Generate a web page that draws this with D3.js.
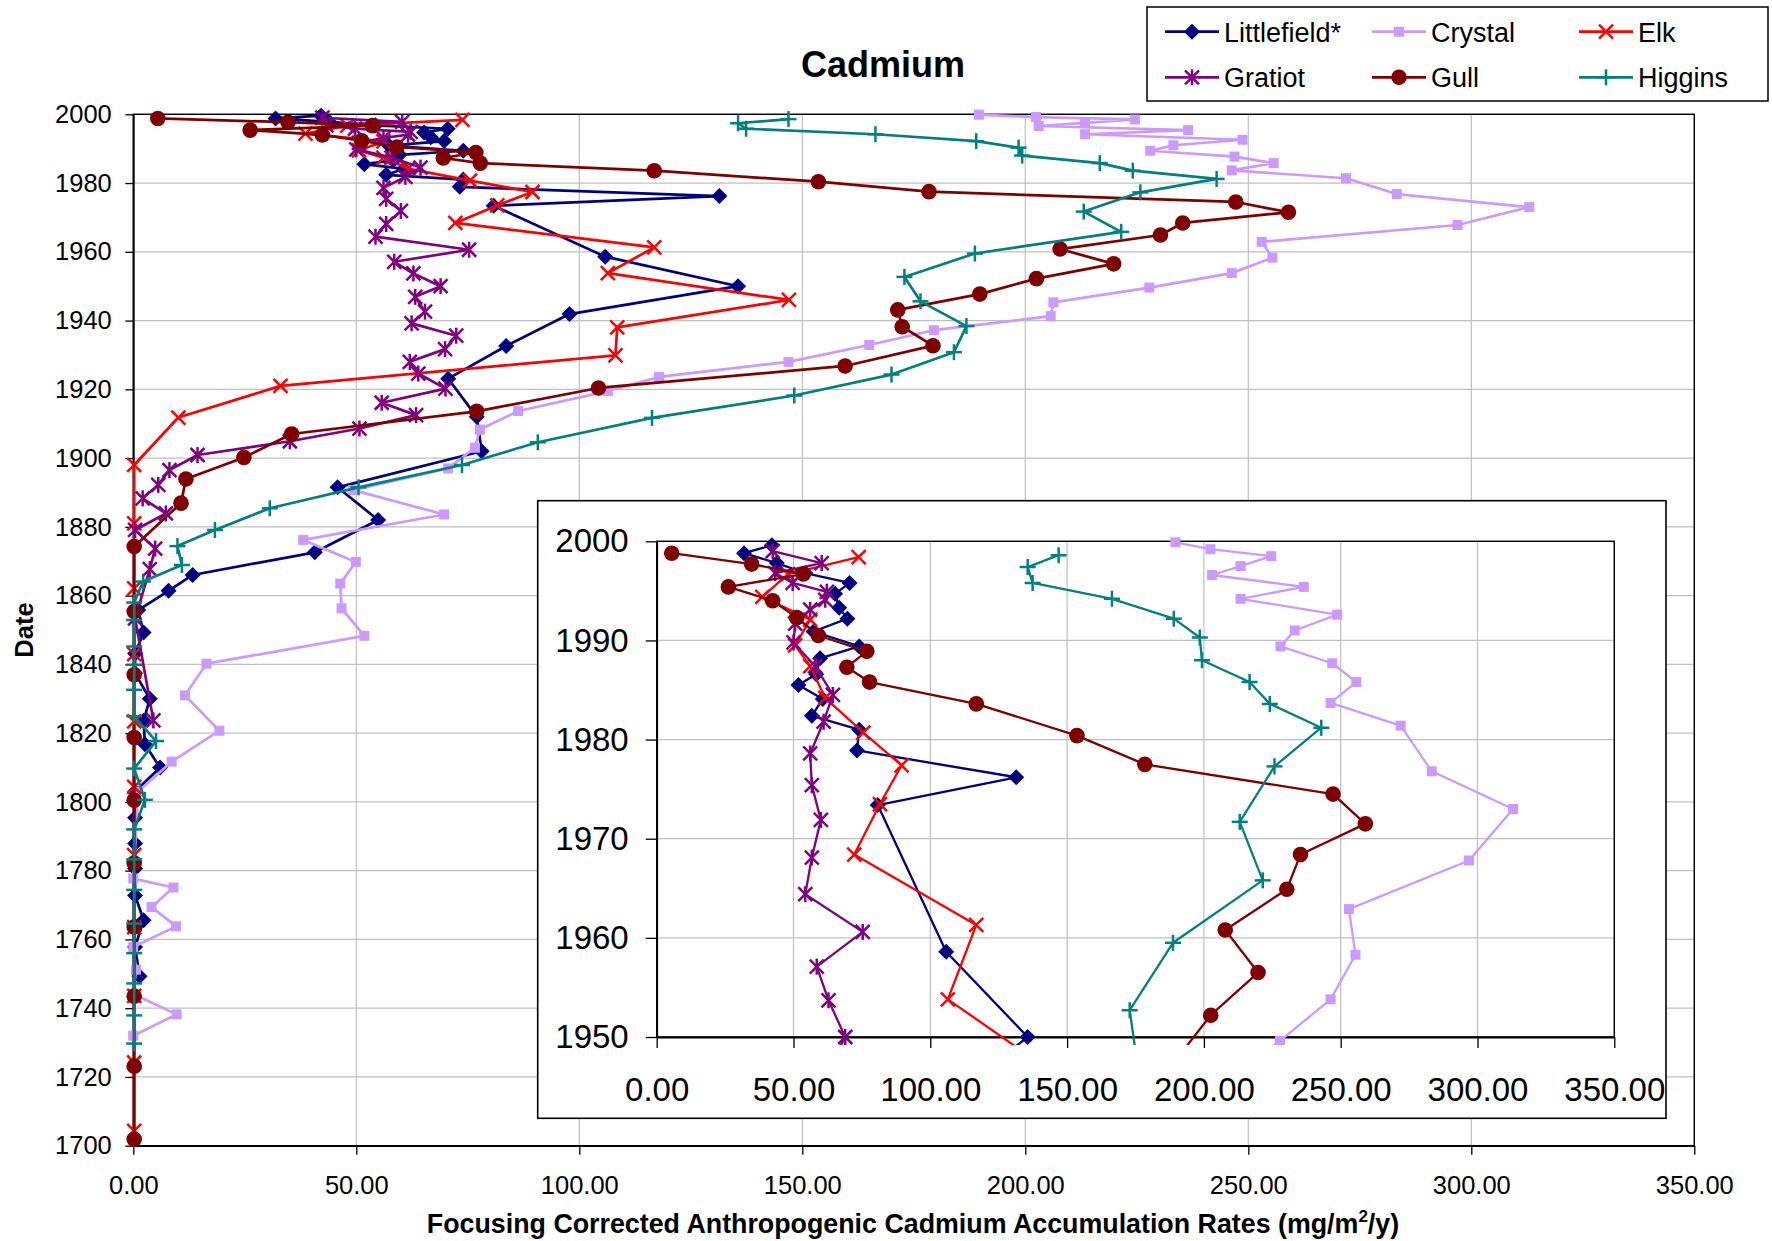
<!DOCTYPE html>
<html>
<head>
<meta charset="utf-8">
<script src="https://cdnjs.cloudflare.com/ajax/libs/d3/7.8.5/d3.min.js"></script>
<style>
  body { margin: 0; background: #fff; }
  svg { font-family: "Liberation Sans", Arial, sans-serif; }
</style>
</head>
<body>
<div id="chart"></div>
<script>
// sediment core data, year (date) vs accumulation rate
var littlefieldYears = [1999.6, 1998.8, 1997.8, 1996.8, 1995.8, 1994.7, 1993.3, 1992.2, 1990.9, 1989.4, 1988.2, 1986.6, 1985.5, 1984.1, 1982.4, 1981.0, 1978.9, 1976.2, 1973.4, 1958.6, 1950.0, 1941.9, 1932.6, 1923.1, 1912.0, 1902.0, 1891.5, 1882.0, 1872.6, 1866.0, 1861.4, 1855.8, 1849.3, 1843.2, 1837.4, 1830.0, 1823.6, 1816.8, 1810.0, 1803.0, 1795.4, 1787.9, 1780.6, 1772.8, 1765.6, 1757.8, 1749.3];
var littlefieldRates = [42.1, 31.9, 43.9, 54.3, 70.5, 65.2, 66.7, 69.7, 57.3, 74.0, 59.7, 58.3, 51.8, 60.7, 56.7, 74.0, 73.2, 131.4, 80.8, 105.8, 135.6, 97.8, 83.6, 70.6, 77.0, 78.1, 45.8, 54.9, 40.7, 13.3, 7.9, 1.1, 2.3, 0.4, 0.4, 3.7, 2.3, 2.6, 6.0, 0.4, 0.4, 0.4, 0.4, 0.4, 2.3, 0.4, 1.4];

var crystalYears = [1999.9, 1999.2, 1998.5, 1997.5, 1996.6, 1995.4, 1994.2, 1992.6, 1991.0, 1989.4, 1987.7, 1985.8, 1983.7, 1981.4, 1976.8, 1973.0, 1967.8, 1962.9, 1958.3, 1953.8, 1949.6, 1945.3, 1941.3, 1937.2, 1932.9, 1928.0, 1923.6, 1919.5, 1913.7, 1908.3, 1903.0, 1897.0, 1890.7, 1883.6, 1876.2, 1869.8, 1863.5, 1856.3, 1848.3, 1840.2, 1831.0, 1820.7, 1811.7, 1803.0, 1777.7, 1775.1, 1769.4, 1763.8, 1757.8, 1751.2, 1744.1, 1738.2, 1732.0];
var crystalRates = [189.6, 202.4, 224.6, 213.4, 203.0, 236.5, 213.4, 248.7, 233.2, 228.0, 246.9, 255.7, 246.3, 271.9, 283.3, 313.0, 296.9, 253.0, 255.4, 246.3, 227.8, 206.3, 205.7, 179.5, 165.0, 146.9, 117.9, 106.4, 86.3, 77.7, 76.6, 70.6, 49.3, 69.7, 38.1, 49.9, 46.4, 46.7, 51.8, 16.4, 11.6, 19.3, 8.6, 1.1, 0.0, 9.0, 4.1, 9.6, 0.0, 0.6, 0.0, 9.7, 0.0];

var elkYears = [1998.4, 1996.7, 1994.4, 1992.1, 1989.5, 1987.4, 1984.2, 1980.7, 1977.4, 1973.5, 1968.4, 1961.3, 1953.8, 1946.0, 1938.0, 1929.9, 1921.0, 1911.8, 1898.0, 1881.0, 1862.1, 1843.0, 1823.4, 1804.4, 1784.5, 1763.6, 1743.6, 1724.2, 1704.3];
var elkRates = [73.8, 48.0, 38.6, 56.1, 50.6, 56.1, 61.6, 75.5, 89.5, 81.6, 72.2, 116.8, 106.4, 147.0, 108.5, 108.1, 33.0, 10.1, 0.2, 0.2, 0.2, 0.2, 0.2, 0.2, 0.2, 0.2, 0.2, 0.2, 0.2];

var gratiotYears = [1999.0, 1997.8, 1996.8, 1995.8, 1994.9, 1994.1, 1993.1, 1991.7, 1989.8, 1987.4, 1984.5, 1981.8, 1978.6, 1975.4, 1971.9, 1968.1, 1964.4, 1960.6, 1957.1, 1953.7, 1950.0, 1946.9, 1942.6, 1939.2, 1935.6, 1931.7, 1928.0, 1924.6, 1920.2, 1916.1, 1912.5, 1908.6, 1904.9, 1900.9, 1896.5, 1892.2, 1888.3, 1883.9, 1879.1, 1873.7, 1867.7, 1853.4, 1823.7];
var gratiotRates = [42.4, 60.3, 43.3, 49.7, 62.2, 61.6, 56.1, 50.6, 50.0, 57.9, 64.4, 61.0, 56.1, 56.7, 60.0, 56.7, 54.3, 75.3, 58.5, 62.8, 68.9, 63.2, 65.4, 62.4, 72.4, 69.9, 62.0, 63.9, 70.0, 55.7, 63.4, 50.7, 35.1, 14.4, 8.1, 5.6, 2.1, 7.3, 0.4, 4.9, 3.7, 0.4, 4.5];

var gullYears = [1998.8, 1997.7, 1996.7, 1995.4, 1994.0, 1992.3, 1990.5, 1988.9, 1987.3, 1985.8, 1983.6, 1980.4, 1977.5, 1974.5, 1971.5, 1968.4, 1964.9, 1960.8, 1956.5, 1952.2, 1947.7, 1943.1, 1938.2, 1932.7, 1926.8, 1920.4, 1913.6, 1907.0, 1900.2, 1893.9, 1886.9, 1874.3, 1855.4, 1837.0, 1818.7, 1800.5, 1782.2, 1763.6, 1743.5, 1723.1, 1701.9];
var gullRates = [5.5, 34.7, 53.6, 26.2, 42.4, 51.2, 59.1, 76.8, 69.5, 77.8, 116.8, 153.6, 178.4, 247.2, 259.0, 235.3, 230.3, 207.8, 219.8, 202.5, 189.8, 171.4, 172.4, 179.3, 159.6, 104.3, 77.0, 35.5, 24.8, 11.8, 10.7, 0.2, 0.2, 0.2, 0.2, 0.2, 0.2, 0.2, 0.2, 0.2, 0.2];

var higginsYears = [1998.6, 1997.4, 1995.8, 1994.2, 1992.2, 1990.3, 1988.0, 1985.8, 1983.6, 1981.2, 1977.3, 1971.7, 1965.8, 1959.5, 1952.7, 1945.6, 1938.4, 1930.8, 1924.3, 1918.2, 1911.7, 1904.6, 1898.0, 1891.5, 1885.4, 1879.1, 1874.4, 1868.9, 1864.1, 1858.0, 1852.9, 1845.2, 1839.9, 1832.6, 1824.9, 1817.7, 1809.7, 1800.6, 1792.0, 1783.3, 1774.4, 1764.6, 1756.0, 1747.2, 1737.9, 1729.7];
var higginsRates = [146.9, 135.6, 137.4, 166.4, 189.0, 198.5, 199.3, 216.7, 224.1, 242.9, 225.8, 213.1, 221.5, 188.7, 172.9, 176.5, 186.8, 184.0, 170.0, 148.2, 116.3, 90.7, 73.7, 50.5, 30.6, 18.3, 9.9, 10.9, 2.2, 0.2, 0.2, 0.2, 0.2, 0.2, 0.2, 5.1, 0.2, 2.6, 0.2, 0.2, 0.2, 0.2, 0.2, 0.2, 0.2, 0.2];

var seriesNames = ["Littlefield*", "Crystal", "Elk", "Gratiot", "Gull", "Higgins"];
var rateTicks = [0, 50, 100, 150, 200, 250, 300, 350];
var yearTicks = [1700, 1720, 1740, 1760, 1780, 1800, 1820, 1840, 1860, 1880, 1900, 1920, 1940, 1960, 1980, 2000];
var insetYearTicks = [1950, 1960, 1970, 1980, 1990, 2000];

function pairs(years, rates) {
  return years.map(function(yr, i) { return { year: yr, rate: rates[i] }; });
}

var series = [
  { name: seriesNames[0], color: "#000080", marker: "diamond", data: pairs(littlefieldYears, littlefieldRates) },
  { name: seriesNames[1], color: "#CC99FF", marker: "square",  data: pairs(crystalYears, crystalRates) },
  { name: seriesNames[2], color: "#FF0000", marker: "x",       data: pairs(elkYears, elkRates) },
  { name: seriesNames[3], color: "#800080", marker: "star",    data: pairs(gratiotYears, gratiotRates) },
  { name: seriesNames[4], color: "#800000", marker: "circle",  data: pairs(gullYears, gullRates) },
  { name: seriesNames[5], color: "#008080", marker: "plus",    data: pairs(higginsYears, higginsRates) }
];

var W = 1772, H = 1241;
var svg = d3.select("#chart").append("svg")
  .attr("width", W).attr("height", H);

svg.append("rect").attr("width", W).attr("height", H).attr("fill", "#fff");

function drawMarker(g, type, cx, cy, color) {
  if (type == "diamond") {
    g.append("path").attr("d", "M" + cx + "," + (cy - 8) + "L" + (cx + 8) + "," + cy + "L" + cx + "," + (cy + 8) + "L" + (cx - 8) + "," + cy + "Z")
      .attr("fill", color);
  } else if (type == "square") {
    g.append("rect").attr("x", cx - 5).attr("y", cy - 5).attr("width", 10).attr("height", 10).attr("fill", color);
  } else if (type == "circle") {
    g.append("circle").attr("cx", cx).attr("cy", cy).attr("r", 7.8).attr("fill", color);
  } else {
    var segs = [];
    if (type == "x" || type == "star") {
      segs.push([-7, -7, 7, 7]);
      segs.push([-7, 7, 7, -7]);
    }
    if (type == "star") segs.push([0, -8, 0, 8]);
    if (type == "plus") {
      segs.push([-8, 0, 8, 0]);
      segs.push([0, -8, 0, 8]);
    }
    segs.forEach(function(s) {
      g.append("line").attr("x1", cx + s[0]).attr("y1", cy + s[1]).attr("x2", cx + s[2]).attr("y2", cy + s[3])
        .attr("stroke", color).attr("stroke-width", 2.5);
    });
  }
}

// ---------- main chart ----------
var main = { left: 133.3, right: 1694.3, top: 114.3, bottom: 1145.7 };
var xScale = d3.scaleLinear().domain([0, 350]).range([main.left, main.right]);
var yScale = d3.scaleLinear().domain([1700, 2000]).range([main.bottom, main.top]);

var grid = svg.append("g");
rateTicks.forEach(function(v) {
  grid.append("line").attr("x1", xScale(v)).attr("x2", xScale(v)).attr("y1", main.top).attr("y2", main.bottom)
    .attr("stroke", "#c0c0c0").attr("stroke-width", 1.2);
});
yearTicks.forEach(function(v) {
  grid.append("line").attr("x1", main.left).attr("x2", main.right).attr("y1", yScale(v)).attr("y2", yScale(v))
    .attr("stroke", "#c0c0c0").attr("stroke-width", 1.2);
});
svg.append("rect").attr("x", main.left).attr("y", main.top)
  .attr("width", main.right - main.left).attr("height", main.bottom - main.top)
  .attr("fill", "none").attr("stroke", "#000").attr("stroke-width", 1.4);

var xAxis = d3.axisBottom(xScale).tickValues(rateTicks).tickSizeInner(9).tickSizeOuter(0).tickPadding(21)
  .tickFormat(d3.format(".2f"));
var yAxis = d3.axisLeft(yScale).tickValues(yearTicks).tickSizeInner(8).tickSizeOuter(0).tickPadding(13.5)
  .tickFormat(d3.format("d"));

var gx = svg.append("g").attr("transform", "translate(0," + main.bottom + ")").call(xAxis);
var gy = svg.append("g").attr("transform", "translate(" + main.left + ",0)").call(yAxis);
[gx, gy].forEach(function(g) {
  g.select(".domain").attr("stroke", "#000").attr("stroke-width", 1.8);
  g.selectAll(".tick line").attr("stroke", "#000").attr("stroke-width", 1.3);
  g.selectAll(".tick text").attr("font-size", "25.5px").attr("fill", "#000")
    .attr("font-family", "Liberation Sans, Arial, sans-serif");
});

function drawSeries(g, s, xs, ys, yMin, lineWidth) {
  var line = d3.line().x(function(d) { return xs(d.rate); }).y(function(d) { return ys(d.year); });
  g.append("path").datum(s.data).attr("d", line)
    .attr("fill", "none").attr("stroke", s.color).attr("stroke-width", lineWidth)
    .attr("stroke-linejoin", "round");
  var mg = g.append("g");
  s.data.forEach(function(d) {
    if (d.year >= yMin) drawMarker(mg, s.marker, xs(d.rate), ys(d.year), s.color);
  });
}

var plotG = svg.append("g");
series.forEach(function(s) { drawSeries(plotG, s, xScale, yScale, 1690, 2.7); });

// ---------- titles ----------
svg.append("text").attr("x", 883).attr("y", 77).attr("text-anchor", "middle")
  .attr("font-size", "36px").attr("font-weight", "bold").text("Cadmium");

var xt = svg.append("text").attr("x", 913).attr("y", 1233).attr("text-anchor", "middle")
  .attr("font-size", "26.8px").attr("font-weight", "bold");
xt.append("tspan").text("Focusing Corrected Anthropogenic Cadmium Accumulation Rates (mg/m");
xt.append("tspan").attr("font-size", "17px").attr("dy", -11).text("2");
xt.append("tspan").attr("dy", 11).text("/y)");

svg.append("text").attr("transform", "translate(33,630) rotate(-90)").attr("text-anchor", "middle")
  .attr("font-size", "25.5px").attr("font-weight", "bold").text("Date");

// ---------- legend ----------
var leg = svg.append("g");
leg.append("rect").attr("x", 1147).attr("y", 7).attr("width", 621).attr("height", 94)
  .attr("fill", "#fff").attr("stroke", "#000").attr("stroke-width", 1.5);
var legCols = [1165, 1372, 1579];
var legRows = [31.7, 77.3];
series.forEach(function(s, i) {
  var lx = legCols[i % 3], ly = legRows[Math.floor(i / 3)];
  leg.append("line").attr("x1", lx).attr("x2", lx + 54).attr("y1", ly).attr("y2", ly)
    .attr("stroke", s.color).attr("stroke-width", 2.7);
  drawMarker(leg, s.marker, lx + 27, ly, s.color);
  leg.append("text").attr("x", lx + 59).attr("y", ly + 9.8).attr("font-size", "27px").text(s.name);
});

// ---------- inset chart ----------
var box = { x: 537.7, y: 500.7, w: 1128.3, h: 617.6 };
var ins = { left: 656.7, right: 1614.3, top: 541.3, bottom: 1037 };
svg.append("rect").attr("x", box.x).attr("y", box.y).attr("width", box.w).attr("height", box.h)
  .attr("fill", "#fff").attr("stroke", "#000").attr("stroke-width", 1.6);

var xIn = d3.scaleLinear().domain([0, 350]).range([ins.left, ins.right]);
var yIn = d3.scaleLinear().domain([1950, 2000]).range([ins.bottom, ins.top]);

var igrid = svg.append("g");
rateTicks.forEach(function(v) {
  igrid.append("line").attr("x1", xIn(v)).attr("x2", xIn(v)).attr("y1", ins.top).attr("y2", ins.bottom)
    .attr("stroke", "#c0c0c0").attr("stroke-width", 1.2);
});
insetYearTicks.forEach(function(v) {
  igrid.append("line").attr("x1", ins.left).attr("x2", ins.right).attr("y1", yIn(v)).attr("y2", yIn(v))
    .attr("stroke", "#c0c0c0").attr("stroke-width", 1.2);
});
svg.append("rect").attr("x", ins.left).attr("y", ins.top)
  .attr("width", ins.right - ins.left).attr("height", ins.bottom - ins.top)
  .attr("fill", "none").attr("stroke", "#000").attr("stroke-width", 1.4);

var xAxisIn = d3.axisBottom(xIn).tickValues(rateTicks).tickSizeInner(11).tickSizeOuter(0).tickPadding(30)
  .tickFormat(d3.format(".2f"));
var yAxisIn = d3.axisLeft(yIn).tickValues(insetYearTicks).tickSizeInner(11).tickSizeOuter(0).tickPadding(17)
  .tickFormat(d3.format("d"));
var gxi = svg.append("g").attr("transform", "translate(0," + ins.bottom + ")").call(xAxisIn);
var gyi = svg.append("g").attr("transform", "translate(" + ins.left + ",0)").call(yAxisIn);
[gxi, gyi].forEach(function(g) {
  g.select(".domain").attr("stroke", "#000").attr("stroke-width", 1.8);
  g.selectAll(".tick line").attr("stroke", "#000").attr("stroke-width", 1.3);
  g.selectAll(".tick text").attr("font-size", "33px").attr("fill", "#000")
    .attr("font-family", "Liberation Sans, Arial, sans-serif");
});

svg.append("clipPath").attr("id", "insetClip").append("rect")
  .attr("x", ins.left).attr("y", ins.top - 10).attr("width", ins.right - ins.left).attr("height", ins.bottom - ins.top + 18);
var insG = svg.append("g").attr("clip-path", "url(#insetClip)");
series.forEach(function(s) { drawSeries(insG, s, xIn, yIn, 1949.5, 2.3); });
</script>
</body>
</html>
